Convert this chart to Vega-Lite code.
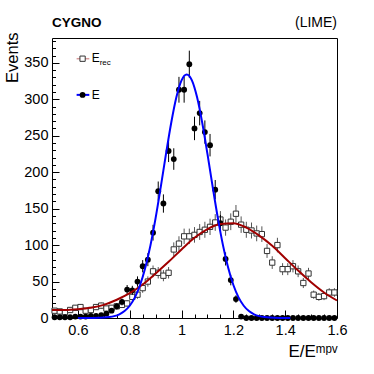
{
  "$schema": "https://vega.github.io/schema/vega-lite/v6.json",
  "width": 285,
  "height": 280,
  "autosize": {"type": "none"},
  "padding": {"left": 52, "top": 38, "right": 37, "bottom": 56},
  "config": {
    "view": {"stroke": "black", "strokeWidth": 1},
    "font": "Liberation Sans",
    "axis": {"grid": false, "domain": false, "labelFont": "Liberation Sans", "titleFont": "Liberation Sans", "labelColor": "black", "titleColor": "black", "tickColor": "black", "titleFontWeight": "normal", "labelFlush": false, "labelOverlap": false}
  },
  "datasets": {
    "hist": [
      {"x": 0.51, "E": 1, "Eerr": 1, "Erec": 10, "Erecerr": 3.16},
      {"x": 0.53, "E": 1, "Eerr": 1, "Erec": 9, "Erecerr": 3},
      {"x": 0.55, "E": 1, "Eerr": 1, "Erec": 8, "Erecerr": 2.83},
      {"x": 0.57, "E": 1, "Eerr": 1, "Erec": 11, "Erecerr": 3.32},
      {"x": 0.59, "E": 2, "Eerr": 1.41, "Erec": 14, "Erecerr": 3.74},
      {"x": 0.61, "E": 2, "Eerr": 1.41, "Erec": 15, "Erecerr": 3.87},
      {"x": 0.63, "E": 2, "Eerr": 1.41, "Erec": 10, "Erecerr": 3.16},
      {"x": 0.65, "E": 3, "Eerr": 1.73, "Erec": 11, "Erecerr": 3.32},
      {"x": 0.67, "E": 3, "Eerr": 1.73, "Erec": 15, "Erecerr": 3.87},
      {"x": 0.69, "E": 4, "Eerr": 2, "Erec": 17, "Erecerr": 4.12},
      {"x": 0.71, "E": 6, "Eerr": 2.45, "Erec": 13, "Erecerr": 3.61},
      {"x": 0.73, "E": 10, "Eerr": 3.16, "Erec": 14, "Erecerr": 3.74},
      {"x": 0.75, "E": 16, "Eerr": 4, "Erec": 16, "Erecerr": 4},
      {"x": 0.77, "E": 22, "Eerr": 4.69, "Erec": 18, "Erecerr": 4.24},
      {"x": 0.79, "E": 39, "Eerr": 6.24, "Erec": 20, "Erecerr": 4.47},
      {"x": 0.81, "E": 38, "Eerr": 6.16, "Erec": 29, "Erecerr": 5.39},
      {"x": 0.83, "E": 50, "Eerr": 7.07, "Erec": 32, "Erecerr": 5.66},
      {"x": 0.85, "E": 71, "Eerr": 8.43, "Erec": 41, "Erecerr": 6.4},
      {"x": 0.87, "E": 80, "Eerr": 8.94, "Erec": 50, "Erecerr": 7.07},
      {"x": 0.89, "E": 117, "Eerr": 10.82, "Erec": 64, "Erecerr": 8},
      {"x": 0.91, "E": 174, "Eerr": 13.19, "Erec": 62, "Erecerr": 7.87},
      {"x": 0.93, "E": 157, "Eerr": 12.53, "Erec": 58, "Erecerr": 7.62},
      {"x": 0.95, "E": 229, "Eerr": 15.13, "Erec": 62, "Erecerr": 7.87},
      {"x": 0.97, "E": 218, "Eerr": 14.76, "Erec": 94, "Erecerr": 9.7},
      {"x": 0.99, "E": 313, "Eerr": 17.69, "Erec": 102, "Erecerr": 10.1},
      {"x": 1.01, "E": 313, "Eerr": 17.69, "Erec": 112, "Erecerr": 10.58},
      {"x": 1.03, "E": 348, "Eerr": 18.65, "Erec": 112, "Erecerr": 10.58},
      {"x": 1.05, "E": 260, "Eerr": 16.12, "Erec": 114, "Erecerr": 10.68},
      {"x": 1.07, "E": 281, "Eerr": 16.76, "Erec": 118, "Erecerr": 10.86},
      {"x": 1.09, "E": 255, "Eerr": 15.97, "Erec": 121, "Erecerr": 11},
      {"x": 1.11, "E": 237, "Eerr": 15.39, "Erec": 125, "Erecerr": 11.18},
      {"x": 1.13, "E": 176, "Eerr": 13.27, "Erec": 131, "Erecerr": 11.45},
      {"x": 1.15, "E": 130, "Eerr": 11.4, "Erec": 135, "Erecerr": 11.62},
      {"x": 1.17, "E": 81, "Eerr": 9, "Erec": 124, "Erecerr": 11.14},
      {"x": 1.19, "E": 52, "Eerr": 7.21, "Erec": 132, "Erecerr": 11.49},
      {"x": 1.21, "E": 26, "Eerr": 5.1, "Erec": 143, "Erecerr": 11.96},
      {"x": 1.23, "E": 2, "Eerr": 1.41, "Erec": 128, "Erecerr": 11.31},
      {"x": 1.25, "E": 0, "Eerr": 0, "Erec": 121, "Erecerr": 11},
      {"x": 1.27, "E": 0, "Eerr": 0, "Erec": 120, "Erecerr": 10.95},
      {"x": 1.29, "E": 0, "Eerr": 0, "Erec": 116, "Erecerr": 10.77},
      {"x": 1.31, "E": 0, "Eerr": 0, "Erec": 115, "Erecerr": 10.72},
      {"x": 1.33, "E": 0, "Eerr": 0, "Erec": 92, "Erecerr": 9.59},
      {"x": 1.35, "E": 0, "Eerr": 0, "Erec": 76, "Erecerr": 8.72},
      {"x": 1.37, "E": 0, "Eerr": 0, "Erec": 100, "Erecerr": 10},
      {"x": 1.39, "E": 0, "Eerr": 0, "Erec": 67, "Erecerr": 8.19},
      {"x": 1.41, "E": 0, "Eerr": 0, "Erec": 67, "Erecerr": 8.19},
      {"x": 1.43, "E": 0, "Eerr": 0, "Erec": 71, "Erecerr": 8.43},
      {"x": 1.45, "E": 0, "Eerr": 0, "Erec": 64, "Erecerr": 8},
      {"x": 1.47, "E": 0, "Eerr": 0, "Erec": 48, "Erecerr": 6.93},
      {"x": 1.49, "E": 0, "Eerr": 0, "Erec": 61, "Erecerr": 7.81},
      {"x": 1.51, "E": 0, "Eerr": 0, "Erec": 32, "Erecerr": 5.66},
      {"x": 1.53, "E": 0, "Eerr": 0, "Erec": 29, "Erecerr": 5.39},
      {"x": 1.55, "E": 0, "Eerr": 0, "Erec": 30, "Erecerr": 5.48},
      {"x": 1.57, "E": 0, "Eerr": 0, "Erec": 35, "Erecerr": 5.92},
      {"x": 1.59, "E": 0, "Eerr": 0, "Erec": 35, "Erecerr": 5.92}
    ],
    "blueFit": [
      {"x": 0.6, "y": 0}, {"x": 0.64, "y": 0}, {"x": 0.66, "y": 0.1}, {"x": 0.68, "y": 0.3},
      {"x": 0.7, "y": 0.6}, {"x": 0.72, "y": 1.3}, {"x": 0.74, "y": 2.6}, {"x": 0.76, "y": 5.1},
      {"x": 0.78, "y": 9.5}, {"x": 0.8, "y": 16.8}, {"x": 0.82, "y": 28.3}, {"x": 0.84, "y": 45.2},
      {"x": 0.86, "y": 68.8}, {"x": 0.88, "y": 99.6}, {"x": 0.9, "y": 137.3}, {"x": 0.92, "y": 180.2},
      {"x": 0.94, "y": 225}, {"x": 0.96, "y": 267.4}, {"x": 0.98, "y": 302.6}, {"x": 1.0, "y": 325.9},
      {"x": 1.02, "y": 334}, {"x": 1.04, "y": 325.9}, {"x": 1.06, "y": 302.6}, {"x": 1.08, "y": 267.4},
      {"x": 1.1, "y": 225}, {"x": 1.12, "y": 180.2}, {"x": 1.14, "y": 137.3}, {"x": 1.16, "y": 99.6},
      {"x": 1.18, "y": 68.8}, {"x": 1.2, "y": 45.2}, {"x": 1.22, "y": 28.3}, {"x": 1.24, "y": 16.8},
      {"x": 1.26, "y": 9.5}, {"x": 1.28, "y": 5.1}, {"x": 1.3, "y": 2.6}, {"x": 1.32, "y": 1.3},
      {"x": 1.34, "y": 0.6}, {"x": 1.38, "y": 0.1}, {"x": 1.42, "y": 0}
    ],
    "redFit": [
      {"x": 0.5, "y": 11}, {"x": 0.55, "y": 11}, {"x": 0.6, "y": 12}, {"x": 0.65, "y": 14},
      {"x": 0.7, "y": 18}, {"x": 0.75, "y": 25}, {"x": 0.8, "y": 34}, {"x": 0.85, "y": 46},
      {"x": 0.9, "y": 61}, {"x": 0.95, "y": 77}, {"x": 1.0, "y": 94}, {"x": 1.05, "y": 110},
      {"x": 1.1, "y": 122}, {"x": 1.15, "y": 129}, {"x": 1.2, "y": 130}, {"x": 1.25, "y": 124},
      {"x": 1.3, "y": 113}, {"x": 1.35, "y": 99}, {"x": 1.4, "y": 82}, {"x": 1.45, "y": 65},
      {"x": 1.5, "y": 49}, {"x": 1.55, "y": 35}, {"x": 1.6, "y": 24}
    ]
  },
  "resolve": {"axis": {"x": "independent", "y": "independent"}},
  "layer": [
    {
      "data": {"name": "hist"},
      "mark": {"type": "errorbar", "color": "#555555", "thickness": 1},
      "encoding": {
        "x": {"field": "x", "type": "quantitative", "scale": {"domain": [0.5, 1.6], "nice": false, "zero": false},
          "axis": {"orient": "bottom", "values": [0.6, 0.8, 1, 1.2, 1.4, 1.6], "format": "~g", "ticks": false, "labelFontSize": 14.5, "labelPadding": 5, "title": "E/Eᵐᵖᵛ", "titleFontSize": 17, "titleAnchor": "end", "titleAlign": "right", "titlePadding": 7}},
        "y": {"field": "Erec", "type": "quantitative", "scale": {"domain": [0, 384], "nice": false},
          "axis": {"orient": "left", "values": [0, 50, 100, 150, 200, 250, 300, 350], "ticks": false, "labelFontSize": 14.5, "labelPadding": 4, "title": "Events", "titleFontSize": 16.5, "titleAnchor": "end", "titleAlign": "right", "titleY": -6, "titlePadding": 3}},
        "yError": {"field": "Erecerr"}
      }
    },
    {
      "data": {"name": "hist"},
      "mark": {"type": "square", "fill": "white", "stroke": "#333333", "strokeWidth": 1, "size": 28, "opacity": 1},
      "encoding": {
        "x": {"field": "x", "type": "quantitative", "scale": {"domain": [0.5, 1.6], "nice": false, "zero": false},
          "axis": {"orient": "bottom", "values": [0.6, 0.8, 1, 1.2, 1.4], "labels": false, "tickSize": -8, "title": null}},
        "y": {"field": "Erec", "type": "quantitative", "scale": {"domain": [0, 384], "nice": false},
          "axis": {"orient": "left", "values": [50, 100, 150, 200, 250, 300, 350], "labels": false, "tickSize": -7, "title": null}}
      }
    },
    {
      "data": {"name": "hist"},
      "mark": {"type": "errorbar", "color": "black", "thickness": 1},
      "encoding": {
        "x": {"field": "x", "type": "quantitative", "scale": {"domain": [0.5, 1.6], "nice": false, "zero": false},
          "axis": {"orient": "bottom", "values": [0.55, 0.65, 0.7, 0.75, 0.85, 0.9, 0.95, 1.05, 1.1, 1.15, 1.25, 1.3, 1.35, 1.45, 1.5, 1.55], "labels": false, "tickSize": -4, "title": null}},
        "y": {"field": "E", "type": "quantitative", "scale": {"domain": [0, 384], "nice": false},
          "axis": {"orient": "left", "values": [10, 20, 30, 40, 60, 70, 80, 90, 110, 120, 130, 140, 160, 170, 180, 190, 210, 220, 230, 240, 260, 270, 280, 290, 310, 320, 330, 340, 360, 370, 380], "labels": false, "tickSize": -3.5, "title": null}},
        "yError": {"field": "Eerr"}
      }
    },
    {
      "data": {"name": "hist"},
      "mark": {"type": "circle", "color": "black", "size": 34, "opacity": 1},
      "encoding": {
        "x": {"field": "x", "type": "quantitative", "axis": null},
        "y": {"field": "E", "type": "quantitative", "axis": null}
      }
    },
    {
      "data": {"name": "redFit"},
      "mark": {"type": "line", "color": "#a00000", "strokeWidth": 2, "interpolate": "monotone"},
      "encoding": {
        "x": {"field": "x", "type": "quantitative", "axis": null},
        "y": {"field": "y", "type": "quantitative", "axis": null}
      }
    },
    {
      "data": {"name": "blueFit"},
      "mark": {"type": "line", "color": "#0000ff", "strokeWidth": 2, "interpolate": "monotone"},
      "encoding": {
        "x": {"field": "x", "type": "quantitative", "axis": null},
        "y": {"field": "y", "type": "quantitative", "axis": null}
      }
    },
    {
      "data": {"values": [{}]},
      "mark": {"type": "rule", "color": "#d89a9a", "strokeWidth": 1.5},
      "encoding": {
        "x": {"datum": 0.595, "type": "quantitative", "axis": null},
        "x2": {"datum": 0.644},
        "y": {"datum": 355.6, "type": "quantitative", "axis": null}
      }
    },
    {
      "data": {"values": [{}]},
      "mark": {"type": "square", "fill": "white", "stroke": "#333333", "strokeWidth": 1, "size": 28, "opacity": 1},
      "encoding": {
        "x": {"datum": 0.618, "type": "quantitative", "axis": null},
        "y": {"datum": 355.6, "type": "quantitative", "axis": null}
      }
    },
    {
      "data": {"values": [{}]},
      "mark": {"type": "text", "text": "E", "fontSize": 12, "align": "left", "baseline": "alphabetic", "color": "black"},
      "encoding": {
        "x": {"datum": 0.653, "type": "quantitative", "axis": null},
        "y": {"datum": 351, "type": "quantitative", "axis": null}
      }
    },
    {
      "data": {"values": [{}]},
      "mark": {"type": "text", "text": "rec", "fontSize": 8, "align": "left", "baseline": "alphabetic", "color": "black"},
      "encoding": {
        "x": {"datum": 0.684, "type": "quantitative", "axis": null},
        "y": {"datum": 346.6, "type": "quantitative", "axis": null}
      }
    },
    {
      "data": {"values": [{}]},
      "mark": {"type": "rule", "color": "#0000ff", "strokeWidth": 2},
      "encoding": {
        "x": {"datum": 0.595, "type": "quantitative", "axis": null},
        "x2": {"datum": 0.644},
        "y": {"datum": 306, "type": "quantitative", "axis": null}
      }
    },
    {
      "data": {"values": [{}]},
      "mark": {"type": "circle", "color": "black", "size": 34, "opacity": 1},
      "encoding": {
        "x": {"datum": 0.618, "type": "quantitative", "axis": null},
        "y": {"datum": 306, "type": "quantitative", "axis": null}
      }
    },
    {
      "data": {"values": [{}]},
      "mark": {"type": "text", "text": "E", "fontSize": 12, "align": "left", "baseline": "alphabetic", "color": "black"},
      "encoding": {
        "x": {"datum": 0.653, "type": "quantitative", "axis": null},
        "y": {"datum": 301, "type": "quantitative", "axis": null}
      }
    },
    {
      "data": {"values": [{}]},
      "mark": {"type": "text", "text": "CYGNO", "fontSize": 13.5, "fontWeight": "bold", "align": "left", "baseline": "alphabetic", "color": "black"},
      "encoding": {
        "x": {"datum": 0.5, "type": "quantitative", "axis": null},
        "y": {"datum": 399, "type": "quantitative", "axis": null}
      }
    },
    {
      "data": {"values": [{}]},
      "mark": {"type": "text", "text": "(LIME)", "fontSize": 14, "align": "right", "baseline": "alphabetic", "color": "black"},
      "encoding": {
        "x": {"datum": 1.6, "type": "quantitative", "axis": null},
        "y": {"datum": 399, "type": "quantitative", "axis": null}
      }
    }
  ]
}
